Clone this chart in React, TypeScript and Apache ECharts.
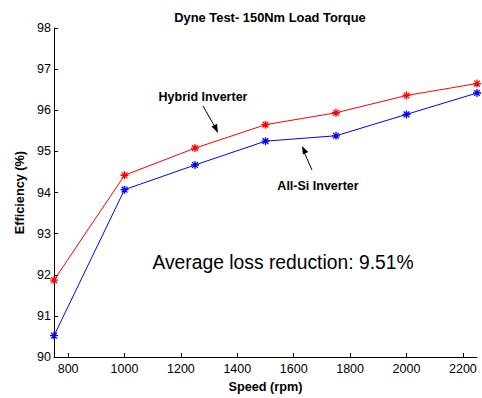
import React, { useEffect, useRef } from "react";
import * as echarts from "echarts";

const speeds = [750, 1000, 1250, 1500, 1750, 2000, 2250];
const hybridEff = [91.87, 94.42, 95.08, 95.65, 95.94, 96.36, 96.65];
const allSiEff = [90.52, 94.07, 94.67, 95.25, 95.38, 95.9, 96.42];
const xTicks = [800, 1000, 1200, 1400, 1600, 1800, 2000, 2200];
const yTicks = [90, 91, 92, 93, 94, 95, 96, 97, 98];

const FONT = "'Liberation Sans', Arial, sans-serif";
const STAR = "path://M0,-5 L0,5 M-5,0 L5,0 M-3.6,-3.6 L3.6,3.6 M-3.6,3.6 L3.6,-3.6";

export default function App() {
  const ref = useRef<HTMLDivElement>(null);
  useEffect(() => {
    if (!ref.current) return;
    const chart = echarts.init(ref.current, null, { renderer: "svg" });
    const mk = (name: string, data: number[], color: string) => ({
      name,
      type: "line",
      data: speeds.map((s, i) => [s, data[i]]),
      symbol: STAR,
      symbolSize: 8,
      showSymbol: true,
      lineStyle: { color, width: 1 },
      itemStyle: { color: "transparent", borderColor: color, borderWidth: 1.3 },
      emphasis: { disabled: true },
      z: 3,
    });
    const boldText = { fontSize: 12.7, fontWeight: "bold", color: "#000", fontFamily: FONT };
    chart.setOption({
      animation: false,
      backgroundColor: "#ffffff",
      textStyle: { fontFamily: FONT },
      title: {
        text: "Dyne Test- 150Nm Load Torque",
        left: 265,
        textAlign: "center",
        top: 6,
        textStyle: { ...boldText, fontSize: 12.9 },
      },
      grid: { left: 54, right: 5, top: 28, bottom: 37, containLabel: false },
      xAxis: {
        type: "value",
        min: 750,
        max: 2250,
        name: "Speed (rpm)",
        nameLocation: "middle",
        nameGap: 22,
        nameTextStyle: boldText,
        axisLine: { show: true, lineStyle: { color: "#000", width: 1 } },
        axisTick: {
          show: true,
          inside: true,
          length: 4,
          lineStyle: { color: "#000" },
          customValues: xTicks,
        },
        axisLabel: {
          color: "#000",
          fontSize: 12.5,
          fontFamily: FONT,
          margin: 5,
          customValues: xTicks,
          formatter: (v: number) => String(v),
        },
        splitLine: { show: false },
      },
      yAxis: {
        type: "value",
        min: 90,
        max: 98,
        interval: 1,
        name: "Efficiency (%)",
        nameLocation: "middle",
        nameGap: 25,
        nameTextStyle: boldText,
        axisLine: { show: true, lineStyle: { color: "#000", width: 1 } },
        axisTick: { show: true, inside: true, length: 4, lineStyle: { color: "#000" }, customValues: yTicks },
        axisLabel: {
          color: "#000",
          fontSize: 12.5,
          fontFamily: FONT,
          margin: 3,
          customValues: yTicks,
          formatter: (v: number) => String(v),
        },
        splitLine: { show: false },
      },
      series: [mk("Hybrid Inverter", hybridEff, "#ff0000"), mk("All-Si Inverter", allSiEff, "#0000ff")],
      graphic: [
        {
          type: "text",
          x: 203,
          y: 97,
          style: {
            text: "Hybrid Inverter",
            fontSize: 12.5,
            fontWeight: "bold",
            fontFamily: FONT,
            fill: "#000",
            align: "center",
            verticalAlign: "middle",
          },
        },
        { type: "line", shape: { x1: 203, y1: 106, x2: 215, y2: 127 }, style: { stroke: "#000", lineWidth: 1 } },
        {
          type: "polygon",
          shape: { points: [[218, 133], [211.5, 126.5], [217, 123.8]] },
          style: { fill: "#000" },
        },
        {
          type: "text",
          x: 318,
          y: 186,
          style: {
            text: "All-Si Inverter",
            fontSize: 12.5,
            fontWeight: "bold",
            fontFamily: FONT,
            fill: "#000",
            align: "center",
            verticalAlign: "middle",
          },
        },
        { type: "line", shape: { x1: 312, y1: 170, x2: 304, y2: 152 }, style: { stroke: "#000", lineWidth: 1 } },
        {
          type: "polygon",
          shape: { points: [[302, 146], [308.3, 152], [302.9, 154.5]] },
          style: { fill: "#000" },
        },
        {
          type: "text",
          x: 283,
          y: 262,
          style: {
            text: "Average loss reduction: 9.51%",
            fontSize: 19.3,
            fontFamily: FONT,
            fill: "#000",
            align: "center",
            verticalAlign: "middle",
          },
        },
      ],
    });
    return () => chart.dispose();
  }, []);
  return <div ref={ref} style={{ width: 482, height: 398, position: "absolute", left: 0, top: 0 }} />;
}
